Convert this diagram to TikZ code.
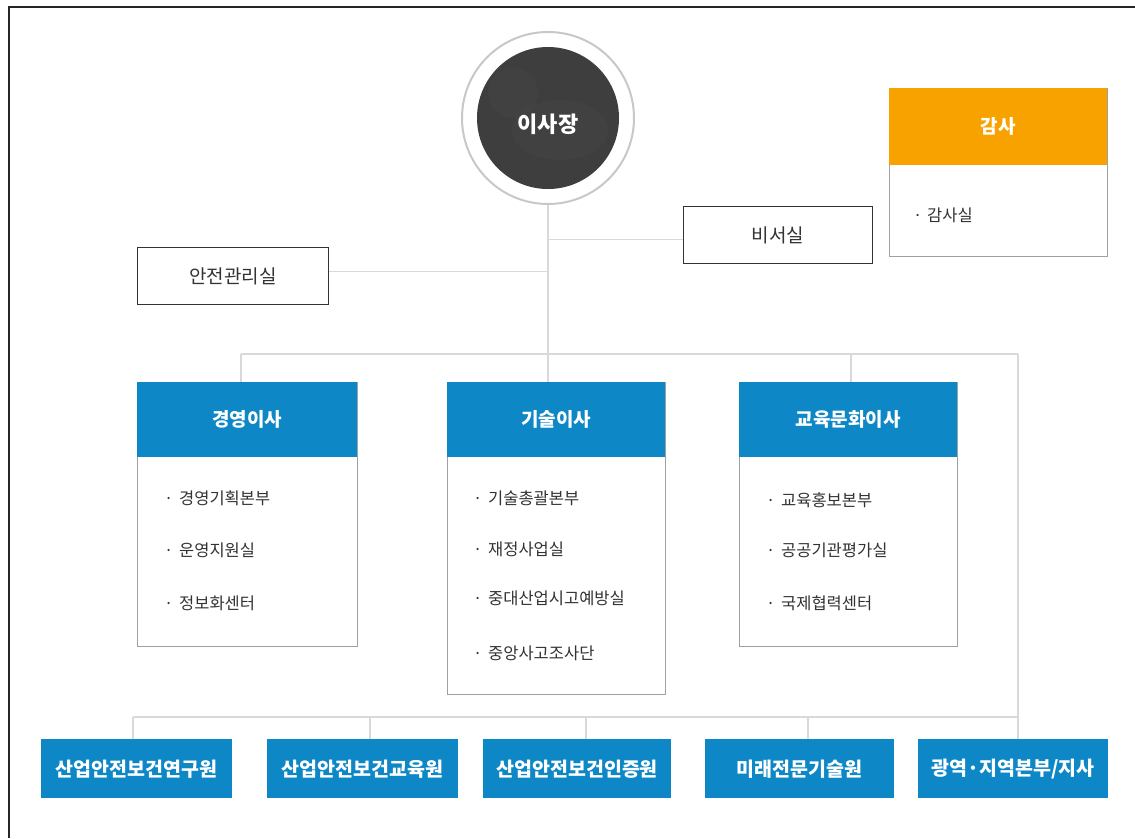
\documentclass[tikz,border=0pt]{standalone}
\usepackage{fontspec}
\setmainfont{Noto Sans CJK KR}
\definecolor{blueh}{HTML}{0E87C7}
\definecolor{orangeh}{HTML}{F8A200}
\definecolor{lineg}{HTML}{D9D9D9}
\definecolor{boxg}{HTML}{A0A0A0}
\definecolor{txt}{HTML}{333333}
\definecolor{ceoc}{HTML}{3E3E3E}
\definecolor{ringg}{HTML}{C8C8C8}
\begin{document}
\begin{tikzpicture}[x=1pt,y=-1pt,
  conn/.style={draw=lineg,line width=1.2pt},
  hdr/.style={fill=blueh,text=white,font=\fontsize{19}{22}\selectfont\bfseries,inner sep=0pt,anchor=north west},
  ohdr/.style={hdr,fill=orangeh},
  bodybox/.style={draw=boxg,line width=1pt,fill=white,inner sep=0pt,anchor=north west},
  darkbox/.style={draw=txt,line width=1.3pt,fill=white,text=txt,inner sep=0pt,anchor=north west,font=\fontsize{19}{22}\selectfont},
  item/.style={anchor=west,text=txt,inner sep=0pt,font=\fontsize{16.5}{19}\selectfont},
  bottombox/.style={hdr,font=\fontsize{19.5}{22}\selectfont\bfseries,minimum height=59pt}
]
\useasboundingbox (0,0) rectangle (1135,838);
\fill[white] (0,0) rectangle (1135,838);
\draw[line width=1.6pt,black!85] (9,838) -- (9,7) -- (1135,7);

% CEO
\node[circle,fill=white,draw=ringg,line width=2pt,minimum size=172pt,inner sep=0pt] (ceoring) at (548,118) {};
\node[circle,fill=ceoc,minimum size=142pt,inner sep=0pt,text=white,
  font=\fontsize{22}{24}\selectfont\bfseries,
  path picture={\fill[white,opacity=0.02,rotate around={-50:(path picture bounding box.center)}]
     ([xshift=12pt,yshift=-12pt]path picture bounding box.center) ellipse (48pt and 30pt);
     \fill[white,opacity=0.015] ([xshift=-35pt,yshift=25pt]path picture bounding box.center) circle (25pt);}
  ] (ceo) at (548,118) {\raisebox{-6pt}[\height][\depth]{이사장}};

% staff offices
\node[darkbox,minimum width=189pt,minimum height=57pt] (sec) at (683,206) {비서실};
\node[darkbox,minimum width=191pt,minimum height=57pt] (safe) at (137,247) {안전관리실};

% audit
\node[bodybox,minimum width=218pt,minimum height=168pt] (audb) at (889,88) {};
\node[ohdr,minimum width=218pt,minimum height=77pt] (audh) at (889,88) {감사};
\node[item] (aud1) at (913,215) {\makebox[14pt][l]{·}감사실};

% directors
\node[bodybox,minimum width=220pt,minimum height=264pt] (gyb) at (137,382) {};
\node[hdr,minimum width=220pt,minimum height=75pt] (gyh) at (137,382) {경영이사};
\node[item] (gy1) at (164,498) {\makebox[15pt][l]{·}경영기획본부};
\node[item] (gy2) at (164,550) {\makebox[15pt][l]{·}운영지원실};
\node[item] (gy3) at (164,603) {\makebox[15pt][l]{·}정보화센터};

\node[bodybox,minimum width=218pt,minimum height=312pt] (gsb) at (447,382) {};
\node[hdr,minimum width=218pt,minimum height=75pt] (gsh) at (447,382) {기술이사};
\node[item] (gs1) at (473,498) {\makebox[15pt][l]{·}기술총괄본부};
\node[item] (gs2) at (473,549) {\makebox[15pt][l]{·}재정사업실};
\node[item] (gs3) at (473,598) {\makebox[15pt][l]{·}중대산업시고예방실};
\node[item] (gs4) at (473,653) {\makebox[15pt][l]{·}중앙사고조사단};

\node[bodybox,minimum width=218pt,minimum height=264pt] (gmb) at (739,382) {};
\node[hdr,minimum width=218pt,minimum height=75pt] (gmh) at (739,382) {교육문화이사};
\node[item] (gm1) at (766,500) {\makebox[15pt][l]{·}교육홍보본부};
\node[item] (gm2) at (766,550) {\makebox[15pt][l]{·}공공기관평가실};
\node[item] (gm3) at (766,603) {\makebox[15pt][l]{·}국제협력센터};

% bottom institutions
\node[bottombox,minimum width=191pt] (b1) at (41,739) {산업안전보건연구원};
\node[bottombox,minimum width=191pt] (b2) at (267,739) {산업안전보건교육원};
\node[bottombox,minimum width=188pt] (b3) at (483,739) {산업안전보건인증원};
\node[bottombox,minimum width=189pt] (b4) at (705,739) {미래전문기술원};
\node[bottombox,minimum width=190pt] (b5) at (918,739) {광역·지역본부/지사};

% connectors
\coordinate (secL) at ([yshift=-4.5pt]sec.west);
\coordinate (safeR) at ([yshift=4.5pt]safe.east);
\coordinate (tl) at (241,354);
\coordinate (tr) at (1018,354);
\coordinate (tm3) at (851,354);
\coordinate (bl) at (133,717);
\coordinate (bm2) at (370,717);
\coordinate (bm3) at (586,717);
\coordinate (bm4) at (808,717);

\draw[conn] (ceoring.south) -- (ceoring.south |- gsh.north);
\draw[conn] (secL) -- (secL -| ceoring.south);
\draw[conn] (safeR) -- (safeR -| ceoring.south);
\draw[conn] (tl) -- (tr);
\draw[conn] (tl) -- (tl |- gyh.north);
\draw[conn] (tm3) -- (tm3 |- gmh.north);
\draw[conn] (tr) -- (tr |- b5.north);
\draw[conn] (bl) -- (bl -| tr);
\draw[conn] (bl) -- (bl |- b1.north);
\draw[conn] (bm2) -- (bm2 |- b2.north);
\draw[conn] (bm3) -- (bm3 |- b3.north);
\draw[conn] (bm4) -- (bm4 |- b4.north);
\end{tikzpicture}
\end{document}
